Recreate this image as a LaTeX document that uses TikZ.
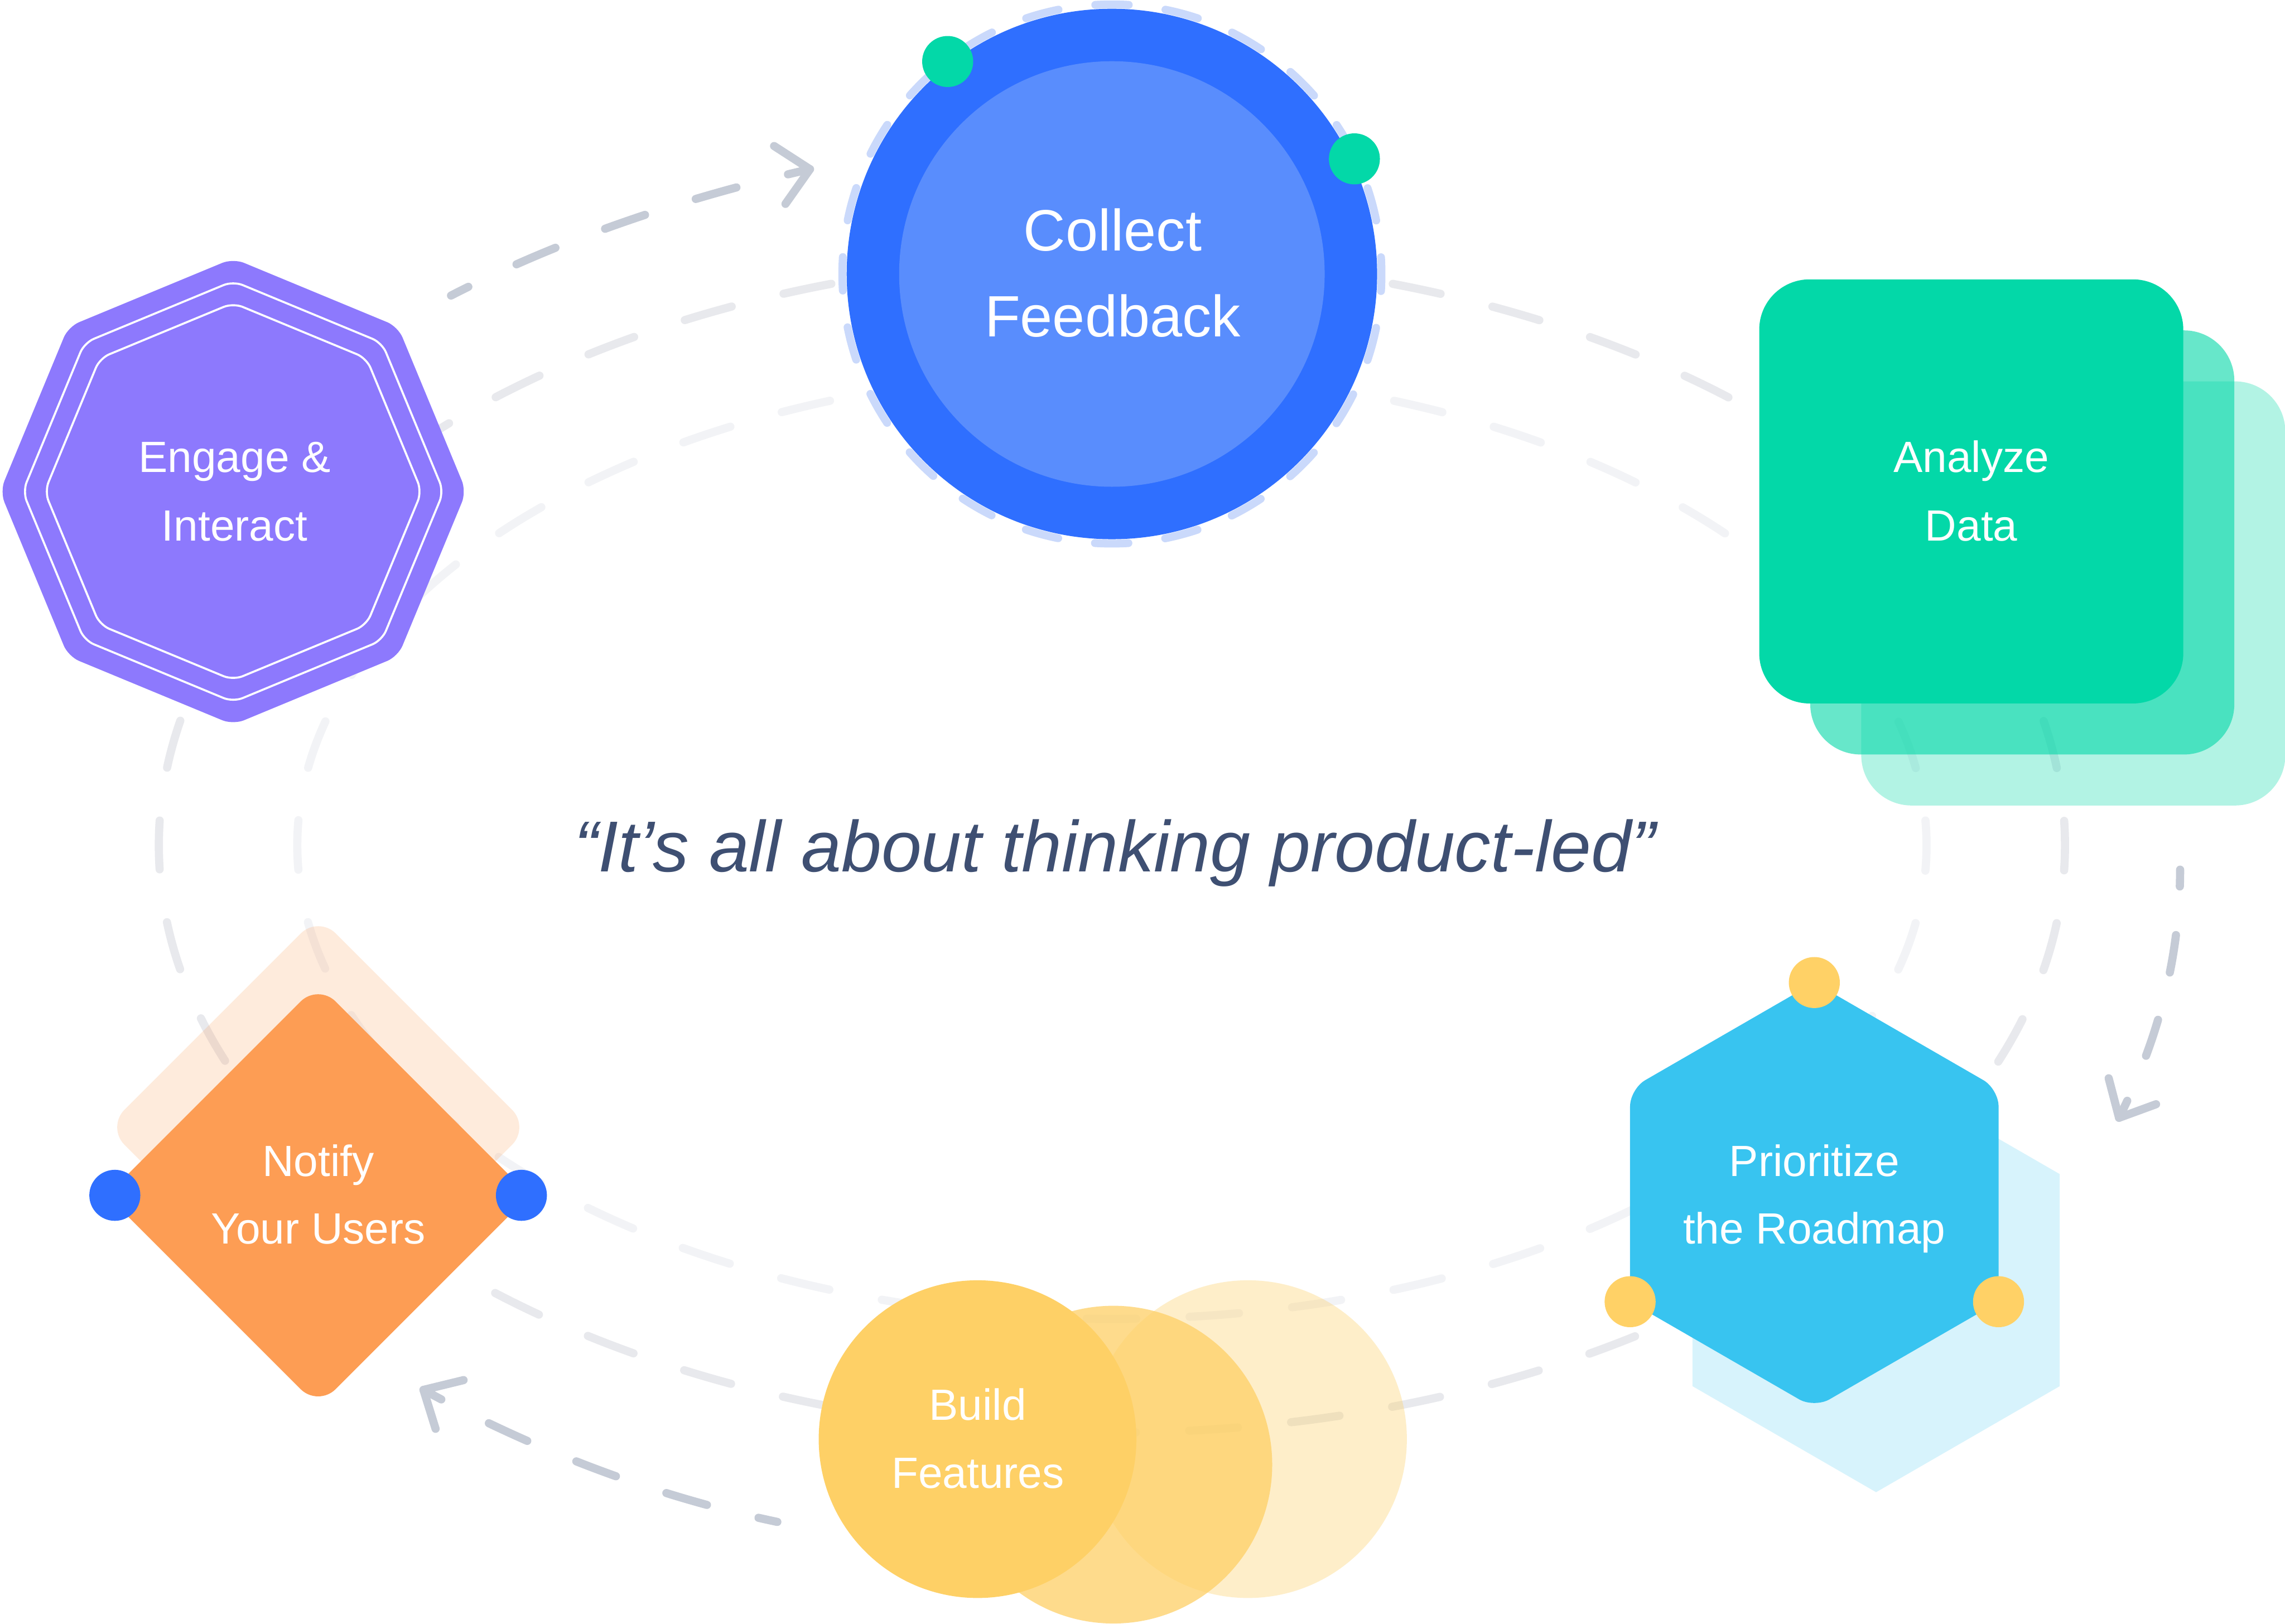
\documentclass[tikz,border=0pt]{standalone}
\usepackage{fontspec}
\setmainfont{Liberation Sans}
\usetikzlibrary{calc}
\definecolor{ringA}{HTML}{E8E9ED}
\definecolor{ringB}{HTML}{F2F3F6}
\definecolor{arcgray}{HTML}{C5CBD6}
\definecolor{cring}{HTML}{CAD9FB}
\definecolor{cblue}{HTML}{2F6FFF}
\definecolor{cblueL}{HTML}{598DFD}
\definecolor{cgreen}{HTML}{03D8A8}
\definecolor{cpurple}{HTML}{8D79FD}
\definecolor{ccyan}{HTML}{38C4F0}
\definecolor{cyellow}{HTML}{FED066}
\definecolor{cdot}{HTML}{FFD166}
\definecolor{corange}{HTML}{FD9D54}
\definecolor{cquote}{HTML}{3E4F72}
\begin{document}
\begin{tikzpicture}[x=1pt,y=-1pt,
  ringline/.style={line width=5.6pt, line cap=round},
  flowarc/.style={draw=arcgray, line width=5.6pt, line cap=round},
  tipline/.style={draw=arcgray, line width=5.6pt, line cap=round, line join=round},
  lbl/.style={text=white, font=\fontsize{30}{36}\selectfont, anchor=base, inner sep=0pt},
  biglbl/.style={text=white, font=\fontsize{40}{48}\selectfont, anchor=base, inner sep=0pt},
  dotnode/.style={circle, minimum size=35pt, inner sep=0pt},
  squarenode/.style={rectangle, minimum size=291pt, rounded corners=34.5pt, inner sep=0pt, fill=cgreen},
  bubble/.style={circle, minimum size=218pt, inner sep=0pt, fill=cyellow}]
\useasboundingbox (0,0) rectangle (1568,1114);
\fill[white] (0,0) rectangle (1568,1114);

% background rings
\draw[ringline, draw=ringA, dash pattern=on 33.5pt off 36.66pt, dash phase=16.75pt]
  (763,580) ellipse [x radius=654pt, y radius=403pt];
\draw[ringline, draw=ringB, dash pattern=on 34pt off 36.65pt, dash phase=17pt]
  (763,580) ellipse [x radius=559pt, y radius=325pt];

% flow arcs with arrowheads
\coordinate (s1) at (309.5,202.8);
\coordinate (e1) at (555.8,116.1);
\coordinate (h1a) at (531.2,100.2);
\coordinate (h1b) at (539,139.9);
\draw[flowarc, dash pattern=on 29pt off 36.5pt, dash phase=15.7pt]
  (s1) .. controls (383,165) and (466,136.5) .. (e1);
\draw[tipline] (h1a) -- (e1) -- (h1b);

\coordinate (s2) at (1496,596.75);
\coordinate (e2) at (1454.1,767);
\coordinate (h2a) at (1447,739.9);
\coordinate (h2b) at (1479.5,757.7);
\draw[flowarc, dash pattern=on 26pt off 33.5pt, dash phase=14.5pt]
  (s2) .. controls (1496,656.75) and (1480.9,713.4) .. (e2);
\draw[tipline] (h2a) -- (e2) -- (h2b);

\coordinate (s3) at (533.4,1044.3);
\coordinate (e3) at (290.6,953.7);
\coordinate (h3a) at (318.1,947);
\coordinate (h3b) at (298.9,980.4);
\draw[flowarc, dash pattern=on 29pt off 36.5pt, dash phase=15.8pt]
  (s3) .. controls (444,1025.5) and (363,993) .. (e3);
\draw[tipline] (h3a) -- (e3) -- (h3b);

% Collect Feedback
\draw[ringline, line width=5.4pt, draw=cring, dash pattern=on 23pt off 25.43pt, dash phase=11.5pt]
  (763,188) circle [radius=185pt];
\node[circle, fill=cblue, minimum size=364pt, inner sep=0pt] (collect) at (763,188) {};
\node[circle, fill=cblueL, minimum size=292pt, inner sep=0pt] (collectin) at (763,188) {};
\node[dotnode, fill=cgreen] (gdot1) at (650.3,42.2) {};
\node[dotnode, fill=cgreen] (gdot2) at (929.4,109) {};
\node[biglbl] (tcol1) at (763.5,172) {Collect};
\node[biglbl] (tcol2) at (763.5,231) {Feedback};

% Engage & Interact
\coordinate (eng) at (160,337.3);
\fill[cpurple, rounded corners=8pt] ($(eng)+(-90:160)$)
  \foreach \a in {-45,0,...,225} { -- ($(eng)+(\a:160)$) } -- cycle;
\draw[white, line width=1.4pt, rounded corners=7pt] ($(eng)+(-90:144.4)$)
  \foreach \a in {-45,0,...,225} { -- ($(eng)+(\a:144.4)$) } -- cycle;
\draw[white, line width=1.4pt, rounded corners=7pt] ($(eng)+(-90:129.4)$)
  \foreach \a in {-45,0,...,225} { -- ($(eng)+(\a:129.4)$) } -- cycle;
\node[lbl] (teng1) at (161,324) {Engage \&};
\node[lbl] (teng2) at (161,371) {Interact};

% Analyze Data
\node[squarenode, fill opacity=0.3] (anaback) at (1422.7,407.2) {};
\node[squarenode, fill opacity=0.6] (anamid) at (1387.7,372.2) {};
\node[squarenode] (analyze) at (1352.7,337.2) {};
\node[lbl] (tana1) at (1352.7,324) {Analyze};
\node[lbl] (tana2) at (1352.7,371) {Data};

% Prioritize the Roadmap
\coordinate (priback) at (1287.4,878.4);
\coordinate (pri) at (1245,820.2);
\fill[ccyan, fill opacity=0.2] ($(priback)+(-90:145.5)$)
  \foreach \a in {-30,30,...,210} { -- ($(priback)+(\a:145.5)$) } -- cycle;
\fill[ccyan, rounded corners=12pt] ($(pri)+(-90:146)$)
  \foreach \a in {-30,30,...,210} { -- ($(pri)+(\a:146)$) } -- cycle;
\node[dotnode, fill=cdot] (ydot1) at (1245,674.2) {};
\node[dotnode, fill=cdot] (ydot2) at (1118.6,893.2) {};
\node[dotnode, fill=cdot] (ydot3) at (1371.4,893.2) {};
\node[lbl] (tpri1) at (1245,807) {Prioritize};
\node[lbl] (tpri2) at (1245,853.5) {the Roadmap};

% Build Features
\node[bubble, fill opacity=0.35] (buildback) at (856.4,987.5) {};
\node[bubble, fill opacity=0.75] (buildmid) at (764,1005) {};
\node[bubble] (build) at (670.8,987.5) {};
\node[lbl] (tbui1) at (671,974.5) {Build};
\node[lbl] (tbui2) at (671,1021) {Features};

% Notify Your Users
\coordinate (notback) at (218.4,773.5);
\coordinate (noti) at (218.3,820.2);
\fill[corange, fill opacity=0.2, rounded corners=17pt] ($(notback)+(-90:145)$)
  \foreach \a in {0,90,180} { -- ($(notback)+(\a:145)$) } -- cycle;
\fill[corange, rounded corners=17pt] ($(noti)+(-90:145)$)
  \foreach \a in {0,90,180} { -- ($(noti)+(\a:145)$) } -- cycle;
\node[dotnode, fill=cblue] (bdot1) at (78.8,820.2) {};
\node[dotnode, fill=cblue] (bdot2) at (357.8,820.2) {};
\node[lbl] (tnot1) at (218.4,807.3) {Notify};
\node[lbl] (tnot2) at (218.4,853.6) {Your Users};

% quote
\node[anchor=base, inner sep=0pt, text=cquote, font=\fontsize{49.5}{58}\selectfont\itshape] (quote)
  at (765,598) {“It’s all about thinking product-led”};
\end{tikzpicture}
\end{document}
